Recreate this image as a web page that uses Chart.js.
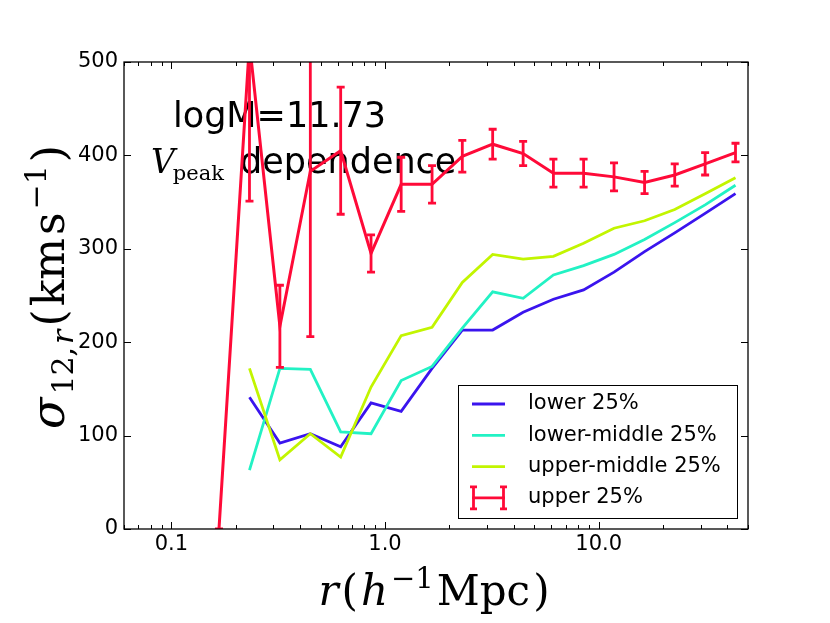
<!DOCTYPE html>
<html>
<head>
<meta charset="utf-8">
<script src="https://cdn.jsdelivr.net/npm/chart.js@4/dist/chart.umd.min.js"></script>
<style>
    html, body { margin: 0; padding: 0; background: #fff; }
</style>
</head>
<body>
<canvas id="chartSigma" width="830" height="623"></canvas>
<script>
// pair separation bins (h^-1 Mpc)
const radii = [0.167, 0.232, 0.322, 0.447, 0.62, 0.86, 1.19, 1.66, 2.3, 3.19, 4.43, 6.14, 8.5, 11.8, 16.4, 22.7, 31.5, 43.7];
// sigma_12,r (km/s) per Vpeak quartile
const lower = [null, 141, 92, 102, 88, 135, 126, 172, 213, 213, 232, 246, 256, 275, 297, 317, 338, 359];
const lowerMiddle = [null, 63, 172, 171, 104, 102, 159, 174, 215, 254, 247, 272, 282, 294, 310, 328, 347, 368];
const upperMiddle = [null, 172, 74, 102, 77, 152, 207, 216, 264, 294, 289, 292, 306, 322, 330, 342, 359, 376];
const upper = [0, 520, 217, 383, 405, 295, 369, 369, 399, 412, 402, 381, 381, 377, 371, 379, 391, 403];
const upperErr = [0, 169, 44, 177, 68, 20, 29, 20, 17, 16, 13, 15, 15, 15, 12, 12, 12, 10];
const seriesNames = ["lower 25%", "lower-middle 25%", "upper-middle 25%", "upper 25%"];
const xTicks = [0.1, 1, 10];
const xTickLabels = ["0.1", "1.0", "10.0"];
const yTicks = [0, 100, 200, 300, 400, 500];

const colors = ["#3a14ee", "#22f2c4", "#c2f500", "#ff0a38"];
const SANS = "'DejaVu Sans', sans-serif";
const SERIF = "'DejaVu Serif', serif";

function toPoints (ys) {
    return radii.map((r, i) => ({ x: r, y: ys[i] }));
}

// draw text pieces one after another, centred on 0, with a small gap
function drawPieces (ctx, pieces, length) {
    let sum = 0;
    pieces.forEach(p => { ctx.font = p.font; p.w = ctx.measureText(p.t).width; sum += p.w; });
    const gap = Math.min(3, Math.max(0, (length - sum) / (pieces.length - 1)));
    const total = sum + gap * (pieces.length - 1);
    let pos = -total / 2;
    pieces.forEach(p => {
        ctx.font = p.font;
        ctx.fillText(p.t, pos, p.dy || 0);
        pos += p.w + gap;
    });
}

// error bars of the upper quartile
const errorBars = {
    id: "errorBars",
    afterDatasetsDraw (chart) {
        const { ctx, chartArea: a, scales: { x, y } } = chart;
        ctx.save();
        ctx.beginPath();
        ctx.rect(a.left, a.top, a.right - a.left, a.bottom - a.top);
        ctx.clip();
        ctx.strokeStyle = colors[3];
        ctx.lineWidth = 2.8;
        radii.forEach((r, i) => {
            const px = x.getPixelForValue(r);
            const lo = y.getPixelForValue(upper[i] - upperErr[i]);
            const hi = y.getPixelForValue(upper[i] + upperErr[i]);
            ctx.beginPath();
            ctx.moveTo(px, lo); ctx.lineTo(px, hi);
            ctx.moveTo(px - 4, lo); ctx.lineTo(px + 4, lo);
            ctx.moveTo(px - 4, hi); ctx.lineTo(px + 4, hi);
            ctx.stroke();
        });
        ctx.restore();
    },
};

// text inside the plot, under the lines
const notes = {
    id: "notes",
    beforeDatasetsDraw (chart) {
        const ctx = chart.ctx;
        ctx.save();
        ctx.fillStyle = "#000";
        ctx.textBaseline = "alphabetic";
        ctx.font = "35px " + SANS;
        ctx.fillText("logM=11.73", 173, 127);
        ctx.font = "italic 33px " + SERIF;
        ctx.fillText("V", 151, 173);
        const vw = ctx.measureText("V").width;
        ctx.font = "21px " + SERIF;
        ctx.fillText("peak", 149 + vw, 180);
        ctx.font = "35px " + SANS;
        ctx.fillText("dependence", 240, 173);
        ctx.restore();
    },
};

// frame, inward ticks, axis titles and legend
const frame = {
    id: "frame",
    afterDraw (chart) {
        const { ctx, chartArea: a, scales: { x, y } } = chart;
        ctx.save();
        ctx.strokeStyle = "#000";
        ctx.lineWidth = 1;
        const tick = (x1, y1, x2, y2) => { ctx.beginPath(); ctx.moveTo(x1, y1); ctx.lineTo(x2, y2); ctx.stroke(); };
        xTicks.forEach(v => {
            const px = Math.round(x.getPixelForValue(v)) + 0.5;
            tick(px, a.bottom, px, a.bottom - 7);
            tick(px, a.top, px, a.top + 7);
        });
        for (let e = -2; e <= 1; e++) {
            for (let m = 2; m <= 9; m++) {
                const v = m * Math.pow(10, e);
                if (v < x.min || v > x.max) continue;
                const px = Math.round(x.getPixelForValue(v)) + 0.5;
                tick(px, a.bottom, px, a.bottom - 4);
                tick(px, a.top, px, a.top + 4);
            }
        }
        yTicks.forEach(v => {
            const py = Math.round(y.getPixelForValue(v)) + 0.5;
            tick(a.left, py, a.left + 7, py);
            tick(a.right, py, a.right - 7, py);
        });
        ctx.lineWidth = 1.3;
        ctx.strokeRect(a.left, a.top, a.right - a.left, a.bottom - a.top);

        // x title
        ctx.fillStyle = "#000";
        ctx.textBaseline = "alphabetic";
        ctx.save();
        ctx.translate(434, 605);
        drawPieces(ctx, [
            { t: "r", font: "italic 42px " + SERIF },
            { t: "(", font: "42px " + SERIF },
            { t: "h", font: "italic 42px " + SERIF },
            { t: "\u22121", font: "29px " + SERIF, dy: -17 },
            { t: "Mpc", font: "42px " + SERIF },
            { t: ")", font: "42px " + SERIF },
        ], 238);
        ctx.restore();

        // y title
        ctx.save();
        ctx.translate(64, 287);
        ctx.rotate(-Math.PI / 2);
        drawPieces(ctx, [
            { t: "\u03c3", font: "italic 46px " + SERIF },
            { t: "12,", font: "30px " + SERIF, dy: 9 },
            { t: "r", font: "italic 30px " + SERIF, dy: 9 },
            { t: "(", font: "44px " + SERIF },
            { t: "km", font: "44px " + SERIF },
            { t: "s", font: "44px " + SERIF },
            { t: "\u22121", font: "30px " + SERIF, dy: -18 },
            { t: ")", font: "44px " + SERIF },
        ], 300);
        ctx.restore();

        // legend
        const lx = 458, ly = 385, lw = 279, lh = 133;
        ctx.fillStyle = "#fff";
        ctx.fillRect(lx, ly, lw, lh);
        ctx.lineWidth = 1;
        ctx.strokeRect(lx + 0.5, ly + 0.5, lw, lh);
        ctx.font = "21px " + SANS;
        ctx.textBaseline = "middle";
        seriesNames.forEach((name, i) => {
            const ry = 404 + i * 31.3;
            ctx.strokeStyle = colors[i];
            ctx.lineWidth = 2.8;
            ctx.beginPath();
            ctx.moveTo(472, ry); ctx.lineTo(505, ry);
            if (i === 3) {
                [473.5, 503.5].forEach(bx => {
                    ctx.moveTo(bx, ry - 11); ctx.lineTo(bx, ry + 11);
                    ctx.moveTo(bx - 3.5, ry - 11); ctx.lineTo(bx + 3.5, ry - 11);
                    ctx.moveTo(bx - 3.5, ry + 11); ctx.lineTo(bx + 3.5, ry + 11);
                });
            }
            ctx.stroke();
            ctx.fillStyle = "#000";
            ctx.fillText(name, 528, ry);
        });
        ctx.restore();
    },
};

const series = [lower, lowerMiddle, upperMiddle, upper];
const ctxSigma = document.getElementById("chartSigma").getContext("2d");
const chartSigma = new Chart(ctxSigma, {
    type: "line",
    data: {
        datasets: series.map((ys, i) => ({
            label: seriesNames[i],
            data: toPoints(ys),
            borderColor: colors[i],
            backgroundColor: colors[i],
            borderWidth: i === 3 ? 3 : 2.8,
            pointRadius: 0,
            tension: 0,
            fill: false,
            order: 3 - i,
        })),
    },
    options: {
        responsive: false,
        animation: false,
        devicePixelRatio: 1,
        layout: { padding: { left: 0, right: 82, top: 62, bottom: 0 } },
        plugins: {
            legend: { display: false },
            tooltip: { enabled: false },
        },
        scales: {
            x: {
                type: "logarithmic",
                min: 0.06,
                max: 50,
                grid: { display: false, drawTicks: false },
                border: { display: false },
                afterBuildTicks: s => { s.ticks = xTicks.map(v => ({ value: v })); },
                afterFit: s => { s.height = 94; },
                ticks: {
                    autoSkip: false,
                    maxRotation: 0,
                    padding: 3,
                    color: "#000",
                    font: { family: SANS, size: 21 },
                    callback: v => xTickLabels[xTicks.indexOf(v)],
                },
            },
            y: {
                type: "linear",
                min: 0,
                max: 500,
                grid: { display: false, drawTicks: false },
                border: { display: false },
                afterBuildTicks: s => { s.ticks = yTicks.map(v => ({ value: v })); },
                afterFit: s => { s.width = 124; },
                ticks: {
                    padding: 6,
                    color: "#000",
                    font: { family: SANS, size: 21 },
                },
            },
        },
    },
    plugins: [notes, errorBars, frame],
});
</script>
</body>
</html>
